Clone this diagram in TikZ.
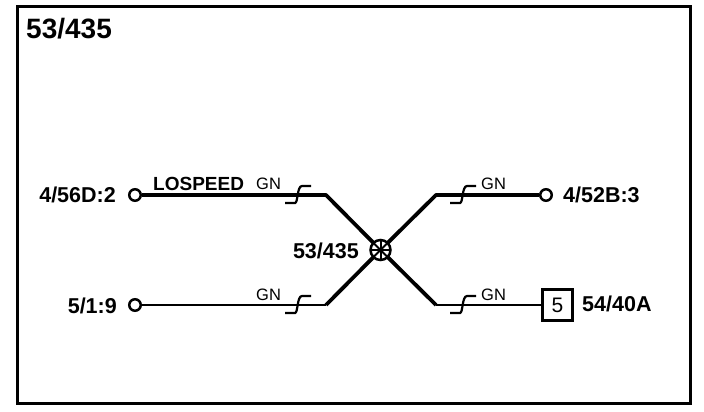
\documentclass[tikz,border=0pt]{standalone}
\usepackage{fontspec}
\setmainfont{Liberation Sans}
\usetikzlibrary{calc}

\begin{document}
\begin{tikzpicture}[x=1pt, y=-1pt,
  wire/.style={line width=3.8pt, line join=round},
  thinwire/.style={line width=2.8pt},
  pin/.style={circle, draw, line width=2.5pt, fill=white, inner sep=0pt, minimum size=11.5pt},
  bold label/.style={font=\bfseries\fontsize{21.5}{24}\selectfont, inner sep=0pt},
  colour label/.style={font=\fontsize{16.5}{18}\selectfont, inner sep=0pt}]

\useasboundingbox (0,0) rectangle (704,412);
\node(frame) [draw, line width=2.5pt, minimum width=673pt, minimum height=397pt, inner sep=0pt] at (354,205) {};
\node(title) [font=\bfseries\fontsize{28}{32}\selectfont, inner sep=0pt, anchor=west] at (26,29) {53/435};

% splice in the middle
\coordinate(hub) at (380.5,250);
\coordinate(tl) at (326,195);
\coordinate(bl) at (326,305);
\coordinate(tr) at (436,195);
\coordinate(br) at (436,305);

\node(p1) [pin] at (135,195) {};
\node(p2) [pin] at (135,305) {};
\node(p3) [pin] at (546,195) {};
\node(box5) [draw, line width=2.8pt, minimum width=30pt, minimum height=31pt, inner sep=0pt, font=\fontsize{21}{24}\selectfont] at (557.5,305) {5};

\draw[wire] (p1) -- (tl) -- (hub);
\draw[wire] (p3) -- (tr) -- (hub);
\draw[thinwire] (p2) -- (bl);
\draw[thinwire] (box5) -- (br);
\draw[wire] (bl) -- (hub);
\draw[wire] (br) -- (hub);

\node(splice) [circle, draw, line width=2.5pt, fill=white, inner sep=0pt, minimum size=20pt] at (hub) {};
\foreach \a in {0,45,90,135}
  \draw[line width=2pt] ($(hub)+(\a:10)$) -- ($(hub)+(\a+180:10)$);

% twist marks on the wires
\foreach \x/\y in {285/203, 285/313, 450/203, 450/313}
  \draw[line width=2.2pt] (\x,\y) -- (\x+10,\y) .. controls (\x+13,\y) and (\x+12,\y-17) .. (\x+17,\y-17) -- (\x+26,\y-17);

% labels
\node(l1) [bold label, anchor=east] at (116,195) {4/56D:2};
\node(l2) [bold label, anchor=east] at (117,306) {5/1:9};
\node(l3) [bold label, anchor=west] at (563,195) {4/52B:3};
\node(l4) [bold label, anchor=west] at (582,304) {54/40A};
\node(l5) [bold label, anchor=east] at (359,251) {53/435};
\node(lo) [bold label, anchor=west, font=\bfseries\fontsize{19}{22}\selectfont] at (153,184) {LOSPEED};

\node(g1) [colour label, anchor=west] at (256,184) {GN};
\node(g2) [colour label, anchor=west] at (256,295) {GN};
\node(g3) [colour label, anchor=west] at (481,184) {GN};
\node(g4) [colour label, anchor=west] at (481,295) {GN};

\end{tikzpicture}
\end{document}
